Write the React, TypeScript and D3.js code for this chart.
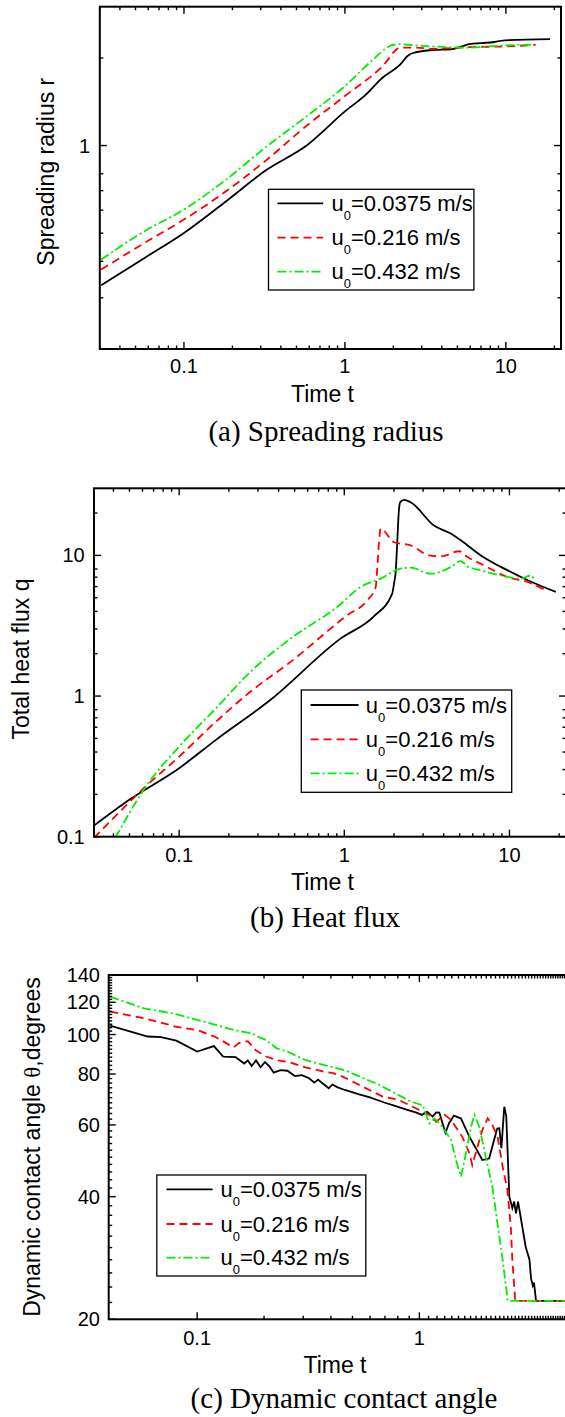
import React from "react";
import * as d3 from "d3";

const W = 565;
const H = 1417;
const SANS = "'Liberation Sans', Arial, sans-serif";
const SERIF = "'Liberation Serif', 'Times New Roman', serif";

// ---------- legend ----------
const legendNames = ["0.0375 m/s", "0.216 m/s", "0.432 m/s"];
const seriesColors = ["#000000", "#ff0000", "#00ee00"];
const seriesDash = ["", "8,5", "9,3,2,3"];

// ---------- (a) spreading radius ----------
const aBlackT = [0.0306, 0.0569, 0.1, 0.177, 0.328, 0.578, 1.0, 1.39, 1.58, 1.71, 2.21, 2.45, 2.65, 3.52, 4.55, 5.32, 5.9, 8.0, 9.86, 18.8];
const aBlackR = [0.331, 0.411, 0.501, 0.635, 0.827, 1.0, 1.31, 1.52, 1.64, 1.71, 1.9, 2.03, 2.08, 2.13, 2.14, 2.19, 2.23, 2.26, 2.3, 2.32];
const aRedT = [0.0306, 0.0569, 0.1, 0.177, 0.328, 0.578, 1.0, 1.71, 2.21, 2.72, 3.52, 5.9, 9.86, 15.3];
const aRedR = [0.375, 0.463, 0.557, 0.688, 0.895, 1.17, 1.48, 1.87, 2.17, 2.17, 2.15, 2.18, 2.19, 2.22];
const aGreenT = [0.0306, 0.0569, 0.1, 0.177, 0.328, 0.578, 1.0, 1.46, 2.0, 2.21, 2.72, 3.52, 5.9, 9.86, 14.9];
const aGreenR = [0.406, 0.508, 0.603, 0.754, 0.995, 1.26, 1.6, 1.95, 2.22, 2.23, 2.21, 2.19, 2.17, 2.21, 2.22];

// ---------- (b) heat flux ----------
const bBlackT = [0.0305, 0.0499, 0.1, 0.167, 0.356, 0.948, 1.51, 1.95, 2.0, 2.05, 2.09, 2.14, 2.18, 2.3, 2.52, 3.49, 4.41, 5.07, 6.71, 9.75, 12.9, 19.1];
const bBlackQ = [0.12, 0.183, 0.307, 0.488, 0.937, 2.56, 3.69, 5.35, 6.3, 7.83, 12.1, 20.8, 23.9, 24.8, 23.9, 16.3, 14.3, 12.8, 10.0, 7.83, 6.66, 5.5];
const bRedT = [0.0305, 0.0428, 0.061, 0.1, 0.167, 0.277, 0.458, 1.04, 1.38, 1.55, 1.58, 1.62, 1.66, 2.0, 2.52, 3.26, 3.84, 4.96, 5.57, 6.71, 9.75, 12.9, 16.3];
const bRedQ = [0.098, 0.147, 0.221, 0.371, 0.657, 1.1, 1.7, 3.75, 4.8, 5.96, 7.83, 12.1, 15.5, 12.4, 11.8, 10.0, 9.84, 10.7, 9.73, 8.73, 7.01, 6.47, 5.71];
const bGreenT = [0.041, 0.0499, 0.061, 0.1, 0.167, 0.277, 0.458, 0.948, 1.25, 1.66, 2.19, 2.52, 3.34, 4.41, 5.07, 5.57, 6.71, 8.87, 11.7, 13.5, 14.1];
const bGreenQ = [0.098, 0.147, 0.216, 0.437, 0.818, 1.53, 2.49, 4.49, 5.96, 6.84, 8.05, 8.18, 7.41, 8.26, 9.11, 8.35, 7.83, 7.21, 6.84, 7.21, 6.7];

// ---------- (c) contact angle ----------
const cBlackT = [0.0406, 0.0599, 0.0688, 0.0806, 0.1, 0.119, 0.131, 0.149, 0.163, 0.169, 0.176, 0.184, 0.193, 0.202, 0.212, 0.221, 0.237, 0.255, 0.275, 0.296, 0.319, 0.337, 0.35, 0.37, 0.391, 0.406, 0.429, 0.462, 0.536, 0.599, 0.695, 0.777, 0.868, 0.97, 1.026, 1.085, 1.147, 1.19, 1.23, 1.31, 1.36, 1.43, 1.54, 1.68, 1.92, 2.06, 2.24, 2.29, 2.34, 2.41, 2.46, 2.54, 2.62, 2.67, 2.72, 2.78, 3.01, 3.13, 3.18, 3.24, 3.28, 3.35, 6.0];
const cBlackA = [105.2, 98.9, 98.6, 96.6, 90.8, 93.7, 88.3, 88.0, 84.9, 86.4, 83.7, 86.4, 83.1, 85.6, 83.4, 80.6, 81.8, 81.5, 79.1, 79.5, 78.1, 76.2, 77.5, 75.6, 73.8, 75.4, 74.2, 73.1, 71.3, 70.1, 68.1, 66.8, 65.5, 64.3, 63.5, 64.6, 62.9, 64.4, 64.3, 57.4, 60.6, 63.2, 62.2, 56.1, 49.2, 49.6, 58.8, 58.9, 52.6, 66.5, 63.1, 40.0, 37.5, 38.9, 36.4, 38.9, 30.1, 28.0, 25.2, 24.2, 24.6, 22.2, 22.2];
const cRedT = [0.0406, 0.0577, 0.0806, 0.1, 0.121, 0.146, 0.154, 0.169, 0.183, 0.204, 0.228, 0.26, 0.307, 0.37, 0.41, 0.452, 0.502, 0.596, 0.684, 0.799, 0.933, 1.11, 1.19, 1.3, 1.39, 1.56, 1.68, 1.73, 1.92, 2.03, 2.13, 2.25, 2.37, 2.49, 2.58, 2.62, 2.7, 6.0];
const cRedA = [113.8, 109.6, 104.5, 102.6, 98.6, 93.0, 95.3, 96.3, 91.6, 88.3, 86.5, 85.5, 83.1, 81.1, 80.4, 78.8, 76.6, 73.1, 70.4, 69.3, 66.5, 63.5, 61.1, 63.5, 61.7, 56.1, 51.1, 47.8, 58.3, 62.3, 60.0, 56.1, 47.4, 41.5, 33.7, 28.0, 22.2, 22.2];
const cGreenT = [0.0406, 0.0577, 0.0777, 0.1, 0.121, 0.146, 0.176, 0.19, 0.204, 0.228, 0.255, 0.307, 0.37, 0.46, 0.661, 0.918, 1.035, 1.11, 1.17, 1.25, 1.39, 1.46, 1.54, 1.62, 1.71, 1.77, 1.86, 1.99, 2.13, 2.29, 2.37, 2.5, 6.0];
const cGreenA = [123.9, 115.9, 112.7, 108.6, 105.6, 102.6, 100.7, 98.5, 97.0, 92.5, 90.8, 86.6, 84.2, 81.8, 75.2, 68.4, 67.1, 60.5, 62.2, 60.0, 55.1, 49.2, 44.8, 51.1, 59.4, 63.5, 59.4, 50.1, 42.3, 31.9, 28.0, 22.2, 22.2];

// ---------- tick values ----------
const aYMajor = [1];
const aYMinor = [0.3, 0.4, 0.5, 0.6, 0.7, 0.8, 2];
const bYMajor = [0.1, 1, 10];
const bYMinor = [0.2, 0.3, 0.4, 0.5, 0.6, 0.7, 0.8, 2, 3, 4, 5, 6, 7, 8, 20];
const cYMajor = [20, 40, 60, 80, 100, 120, 140];
const cYMinor = d3.range(22, 140, 2).filter((v) => v % 20 !== 0);
const abXMajor = [0.1, 1, 10];
const cXMajor = [0.1, 1];

type Frame = { x0: number; x1: number; y0: number; y1: number };
type Legend = { x0: number; x1: number; y0: number; y1: number; lx0: number; lx1: number; tx: number; rows: number[] };
type PanelProps = {
  id: string;
  frame: Frame;
  xDomain: [number, number];
  yDomain: [number, number];
  xMajor: number[];
  yMajor: number[];
  yMinor: number[];
  data: { t: number[]; v: number[] }[];
  curve: any;
  xLabelBase: number;
  xTitle: { x: number; y: number };
  yTitle: { x: number; y: number; content: React.ReactNode };
  yLabelRight: number;
  legend: Legend;
  caption: { x: number; y: number; text: string };
};

function fmt(v: number) {
  return String(v);
}

function Panel(p: PanelProps) {
  const { frame: f } = p;
  const xs = d3.scaleLog().domain(p.xDomain).range([f.x0, f.x1]);
  const ys = d3.scaleLog().domain(p.yDomain).range([f.y1, f.y0]);
  const allX = xs.ticks(50).filter((v) => v >= p.xDomain[0] * 0.999 && v <= p.xDomain[1] * 1.001);
  const isMajor = (v: number) => Math.abs(Math.log10(v) - Math.round(Math.log10(v))) < 1e-6;
  const xMinor = allX.filter((v) => !isMajor(v));
  const xMaj = allX.filter((v) => isMajor(v));
  const MJ = 7;
  const MN = 3.5;
  const line = d3
    .line<[number, number]>()
    .x((d) => xs(d[0]))
    .y((d) => ys(d[1]))
    .curve(p.curve);
  const clipId = "clip-" + p.id;
  const tickStyle = { stroke: "#000", strokeWidth: 1.4 };
  return (
    <g>
      <defs>
        <clipPath id={clipId}>
          <rect x={f.x0} y={f.y0} width={f.x1 - f.x0} height={f.y1 - f.y0} />
        </clipPath>
      </defs>
      <g clipPath={`url(#${clipId})`}>
        {p.data.map((s, i) => (
          <path
            key={i}
            d={line(s.t.map((t, k) => [t, s.v[k]] as [number, number])) || ""}
            fill="none"
            stroke={seriesColors[i]}
            strokeWidth={1.8}
            strokeDasharray={seriesDash[i] || undefined}
          />
        ))}
      </g>
      {xMaj.map((v) => (
        <g key={"xM" + v}>
          <line x1={xs(v)} x2={xs(v)} y1={f.y1} y2={f.y1 - MJ} {...tickStyle} />
          <line x1={xs(v)} x2={xs(v)} y1={f.y0} y2={f.y0 + MJ} {...tickStyle} />
        </g>
      ))}
      {xMinor.map((v) => (
        <g key={"xm" + v}>
          <line x1={xs(v)} x2={xs(v)} y1={f.y1} y2={f.y1 - MN} {...tickStyle} />
          <line x1={xs(v)} x2={xs(v)} y1={f.y0} y2={f.y0 + MN} {...tickStyle} />
        </g>
      ))}
      {p.yMajor.map((v) => (
        <g key={"yM" + v}>
          <line x1={f.x0} x2={f.x0 + MJ} y1={ys(v)} y2={ys(v)} {...tickStyle} />
          <line x1={f.x1} x2={f.x1 - MJ} y1={ys(v)} y2={ys(v)} {...tickStyle} />
        </g>
      ))}
      {p.yMinor.map((v) => (
        <g key={"ym" + v}>
          <line x1={f.x0} x2={f.x0 + MN} y1={ys(v)} y2={ys(v)} {...tickStyle} />
          <line x1={f.x1} x2={f.x1 - MN} y1={ys(v)} y2={ys(v)} {...tickStyle} />
        </g>
      ))}
      <rect x={f.x0} y={f.y0} width={f.x1 - f.x0} height={f.y1 - f.y0} fill="none" stroke="#000" strokeWidth={2} />
      {p.xMajor.map((v) => (
        <text key={"xl" + v} x={xs(v)} y={p.xLabelBase} textAnchor="middle" fontFamily={SANS} fontSize={20} fill="#000">
          {fmt(v)}
        </text>
      ))}
      {p.yMajor.map((v) => (
        <text key={"yl" + v} x={p.yLabelRight} y={ys(v) + 7} textAnchor="end" fontFamily={SANS} fontSize={20} fill="#000">
          {fmt(v)}
        </text>
      ))}
      <text x={p.xTitle.x} y={p.xTitle.y} textAnchor="middle" fontFamily={SANS} fontSize={23} fill="#000">
        Time t
      </text>
      <text
        transform={`translate(${p.yTitle.x},${p.yTitle.y}) rotate(-90)`}
        textAnchor="middle"
        fontFamily={SANS}
        fontSize={23}
        fill="#000"
      >
        {p.yTitle.content}
      </text>
      <rect
        x={p.legend.x0}
        y={p.legend.y0}
        width={p.legend.x1 - p.legend.x0}
        height={p.legend.y1 - p.legend.y0}
        fill="#fff"
        stroke="#000"
        strokeWidth={1.3}
      />
      {legendNames.map((name, i) => (
        <g key={"lg" + i}>
          <line
            x1={p.legend.lx0}
            x2={p.legend.lx1}
            y1={p.legend.rows[i]}
            y2={p.legend.rows[i]}
            stroke={seriesColors[i]}
            strokeWidth={1.8}
            strokeDasharray={seriesDash[i] || undefined}
          />
          <text x={p.legend.tx} y={p.legend.rows[i] + 7.5} fontFamily={SANS} fontSize={22} fill="#000">
            u
            <tspan dy={9} fontSize={13}>
              0
            </tspan>
            <tspan dy={-9}>={name}</tspan>
          </text>
        </g>
      ))}
      <text x={p.caption.x} y={p.caption.y} textAnchor="middle" fontFamily={SERIF} fontSize={29} fill="#000">
        {p.caption.text}
      </text>
    </g>
  );
}

export default function App() {
  return (
    <svg
      width={W}
      height={H}
      viewBox={`0 0 ${W} ${H}`}
      style={{ position: "absolute", left: 0, top: 0, background: "#fff", overflow: "hidden" }}
    >
      <rect x={0} y={0} width={W} height={H} fill="#fff" />
      <Panel
        id="a"
        frame={{ x0: 99.8, x1: 561, y0: 6.7, y1: 349 }}
        xDomain={[0.03, 22]}
        yDomain={[0.2, 3]}
        xMajor={abXMajor}
        yMajor={aYMajor}
        yMinor={aYMinor}
        data={[
          { t: aBlackT, v: aBlackR },
          { t: aRedT, v: aRedR },
          { t: aGreenT, v: aGreenR },
        ]}
        curve={d3.curveMonotoneX}
        xLabelBase={373.3}
        xTitle={{ x: 322.5, y: 401.7 }}
        yTitle={{ x: 53.5, y: 171.7, content: "Spreading radius r" }}
        yLabelRight={90}
        legend={{ x0: 268.5, x1: 473.9, y0: 189.3, y1: 290, lx0: 277.5, lx1: 323.2, tx: 331.5, rows: [203.3, 237.7, 271.7] }}
        caption={{ x: 326, y: 441, text: "(a) Spreading radius" }}
      />
      <Panel
        id="b"
        frame={{ x0: 94, x1: 566, y0: 488.3, y1: 836.7 }}
        xDomain={[0.0305, 22]}
        yDomain={[0.1, 30]}
        xMajor={abXMajor}
        yMajor={bYMajor}
        yMinor={bYMinor}
        data={[
          { t: bBlackT, v: bBlackQ },
          { t: bRedT, v: bRedQ },
          { t: bGreenT, v: bGreenQ },
        ]}
        curve={d3.curveMonotoneX}
        xLabelBase={861.7}
        xTitle={{ x: 322.5, y: 890 }}
        yTitle={{ x: 28.6, y: 659, content: "Total heat flux q" }}
        yLabelRight={84.7}
        legend={{ x0: 301.3, x1: 511.7, y0: 690, y1: 792.3, lx0: 310.6, lx1: 358.6, tx: 365.8, rows: [705, 739.3, 773.3] }}
        caption={{ x: 325, y: 927, text: "(b) Heat flux" }}
      />
      <Panel
        id="c"
        frame={{ x0: 108.7, x1: 574.7, y0: 975, y1: 1319.3 }}
        xDomain={[0.04, 5]}
        yDomain={[20, 140]}
        xMajor={cXMajor}
        yMajor={cYMajor}
        yMinor={cYMinor}
        data={[
          { t: cBlackT, v: cBlackA },
          { t: cRedT, v: cRedA },
          { t: cGreenT, v: cGreenA },
        ]}
        curve={d3.curveLinear}
        xLabelBase={1345}
        xTitle={{ x: 335, y: 1373 }}
        yTitle={{
          x: 40,
          y: 1147,
          content: (
            <>
              Dynamic contact angle <tspan fontFamily={SERIF}>θ</tspan>,degrees
            </>
          ),
        }}
        yLabelRight={100}
        legend={{ x0: 156.8, x1: 365.8, y0: 1175, y1: 1276, lx0: 166.5, lx1: 212.6, tx: 220.5, rows: [1189.3, 1224, 1257.7] }}
        caption={{ x: 344, y: 1408, text: "(c) Dynamic contact angle" }}
      />
    </svg>
  );
}
